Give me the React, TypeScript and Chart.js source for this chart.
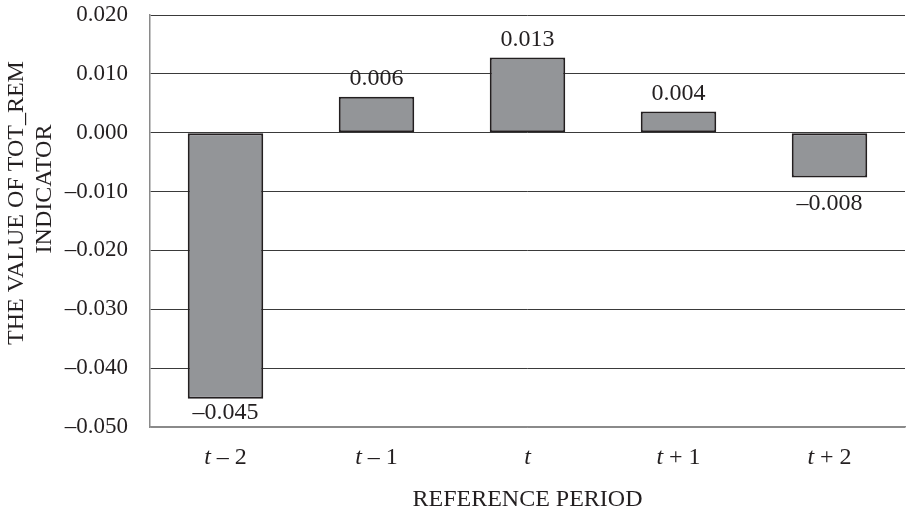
import React, { useEffect, useRef } from "react";
import { Chart, registerables } from "chart.js";

Chart.register(...registerables);

const categories = ["t – 2", "t – 1", "t", "t + 1", "t + 2"];
const values = [-0.0452, 0.0061, 0.0128, 0.0036, -0.0076];
const yTitle = ["THE VALUE OF TOT_REM", "INDICATOR"];
const xTitle = "REFERENCE PERIOD";
const yMin = -0.05;
const yMax = 0.02;
const yStep = 0.01;

const FONT = "'Liberation Serif', 'Times New Roman', serif";
const TEXT = "#231f20";
const SIZE = 24;

function fmt(v: number, digits = 3): string {
  if (Math.abs(v) < 1e-9) return (0).toFixed(digits);
  const s = Math.abs(v).toFixed(digits);
  return v < 0 ? "–" + s : s;
}

const dataLabelPlugin = {
  id: "dataLabels",
  afterDatasetsDraw(chart: any) {
    const ctx = chart.ctx;
    const meta = chart.getDatasetMeta(0);
    const area = chart.chartArea;
    ctx.save();
    ctx.font = `${SIZE}px ${FONT}`;
    ctx.fillStyle = TEXT;
    ctx.textAlign = "center";
    ctx.textBaseline = "middle";
    meta.data.forEach((bar: any, i: number) => {
      const v = values[i];
      const label = fmt(v);
      let y: number;
      if (v >= 0) {
        y = bar.y - 18;
      } else {
        y = bar.y + 26;
        if (y + 12 > area.bottom - 2) y = area.bottom - 2 - 12;
      }
      ctx.fillText(label, bar.x, y);
    });
    ctx.restore();
  },
};

const xLabelPlugin = {
  id: "xLabels",
  afterDraw(chart: any) {
    const ctx = chart.ctx;
    const scale = chart.scales.x;
    ctx.save();
    ctx.fillStyle = TEXT;
    ctx.textBaseline = "middle";
    ctx.textAlign = "left";
    const y = scale.top + 31;
    categories.forEach((lab, i) => {
      const first = lab.charAt(0);
      const rest = lab.slice(1);
      ctx.font = `italic ${SIZE}px ${FONT}`;
      const w1 = ctx.measureText(first).width;
      ctx.font = `${SIZE}px ${FONT}`;
      const w2 = ctx.measureText(rest).width;
      const cx = scale.getPixelForTick(i);
      const x0 = cx - (w1 + w2) / 2;
      ctx.font = `italic ${SIZE}px ${FONT}`;
      ctx.fillText(first, x0, y);
      ctx.font = `${SIZE}px ${FONT}`;
      ctx.fillText(rest, x0 + w1, y);
    });
    ctx.restore();
  },
};

const yTitlePlugin = {
  id: "yTitle",
  afterDraw(chart: any) {
    const ctx = chart.ctx;
    const area = chart.chartArea;
    const cy = (area.top + area.bottom) / 2;
    ctx.save();
    ctx.fillStyle = TEXT;
    ctx.font = `${SIZE}px ${FONT}`;
    ctx.textAlign = "center";
    ctx.textBaseline = "middle";
    const xs = [17, 45];
    const shifts = [-18, -32];
    yTitle.forEach((line, i) => {
      ctx.save();
      ctx.translate(xs[i], cy + shifts[i]);
      ctx.rotate(-Math.PI / 2);
      ctx.fillText(line, 0, 0);
      ctx.restore();
    });
    ctx.restore();
  },
};

export default function App() {
  const ref = useRef<HTMLCanvasElement | null>(null);

  useEffect(() => {
    document.body.style.margin = "0";
    if (!ref.current) return;
    const chart = new Chart(ref.current, {
      type: "bar",
      data: {
        labels: categories,
        datasets: [
          {
            data: values,
            backgroundColor: "#939598",
            borderColor: "#231f20",
            borderWidth: 2,
            borderSkipped: false,
            barPercentage: 0.5,
            categoryPercentage: 1,
          },
        ],
      },
      options: {
        responsive: false,
        animation: false,
        layout: { padding: { top: 15, right: 1, left: 0, bottom: 0 } },
        plugins: {
          legend: { display: false },
          tooltip: { enabled: false },
        },
        scales: {
          x: {
            afterFit(scale: any) {
              scale.height = 86;
              scale.paddingLeft = 0;
              scale.paddingRight = 0;
            },
            grid: { display: false, drawTicks: false },
            border: { display: true, color: "#8a8a8a", width: 1.5 },
            ticks: {
              color: "rgba(0,0,0,0)",
              padding: 18,
              font: { family: FONT, size: SIZE },
            },
            title: {
              display: true,
              text: xTitle,
              color: TEXT,
              font: { family: FONT, size: SIZE, lineHeight: 1.1 },
              padding: { top: 15, bottom: 0 },
            },
          },
          y: {
            min: yMin,
            max: yMax,
            afterFit(scale: any) {
              scale.width = 150;
              scale.paddingTop = 0;
              scale.paddingBottom = 0;
            },
            grid: {
              drawTicks: false,
              color: (c: any) =>
                c.tick && Math.abs(c.tick.value - yMin) < 1e-9 ? "#8a8a8a" : "#3a3a3a",
              lineWidth: 1,
            },
            border: { display: true, color: "#8a8a8a", width: 1.5 },
            ticks: {
              stepSize: yStep,
              padding: 22,
              color: TEXT,
              font: { family: FONT, size: 23 },
              callback: (v: any) => fmt(Number(v)),
            },
            title: { display: false },
          },
        },
      },
      plugins: [dataLabelPlugin, xLabelPlugin, yTitlePlugin],
    });
    return () => chart.destroy();
  }, []);

  return (
    <div style={{ width: 906, height: 513, background: "#fff" }}>
      <canvas ref={ref} width={906} height={513} />
    </div>
  );
}
